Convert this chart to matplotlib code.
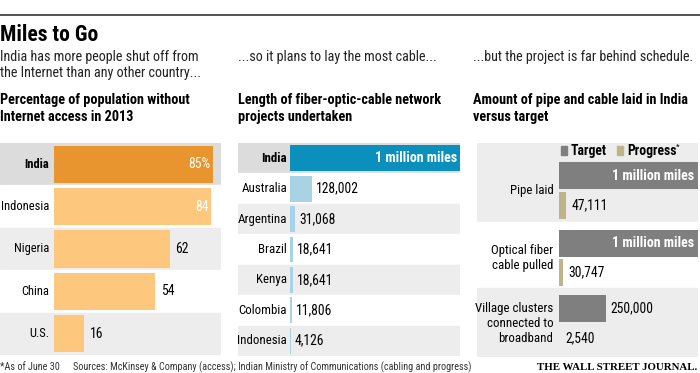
# Miles to Go - India internet / fiber-optic chart
import matplotlib.pyplot as plt
from matplotlib.patches import Rectangle
from matplotlib.lines import Line2D

plt.rcParams['font.family'] = ['Roboto Condensed', 'Fira Sans Condensed', 'PT Sans Narrow', 'DejaVu Sans']

# data
access_countries = ['India', 'Indonesia', 'Nigeria', 'China', 'U.S.']
access_pct = [85, 84, 62, 54, 16]

cable_countries = ['India', 'Australia', 'Argentina', 'Brazil', 'Kenya', 'Colombia', 'Indonesia']
cable_miles = [1000000, 128002, 31068, 18641, 18641, 11806, 4126]

progress_items = ['Pipe laid', 'Optical fiber\ncable pulled', 'Village clusters\nconnected to\nbroadband']
target_vals = [1000000, 1000000, 250000]
progress_vals = [47111, 30747, 2540]
big_labels = {1000000: '1 million miles'}

# colours
GRAY_BG = '#ededed'
INDIA_BG = '#dcdcdc'
ORANGE = '#e8952f'
LIGHT_ORANGE = '#fdc87d'
BLUE = '#0b8fbc'
LIGHT_BLUE = '#a7d3e5'
TARGET = '#7f7f7f'
PROGRESS = '#bdb589'

W, H = 700, 373
fig = plt.figure(figsize=(7, 3.73), dpi=100)


def px_axes(x0, y0, x1, y1):
    ax = fig.add_axes([x0 / W, 1 - y1 / H, (x1 - x0) / W, (y1 - y0) / H])
    ax.axis('off')
    return ax


def ftext(x, y, s, **kw):
    kw.setdefault('va', 'center')
    fig.text(x / W, 1 - y / H, s, **kw)


# header
fig.add_artist(Line2D([0, 1], [1 - 15 / H] * 2, color='#444444', lw=1.3))
ftext(0, 35, 'Miles to Go', fontsize=15.5, fontweight='bold')
sub = dict(fontsize=10.2, color='#222222')
ftext(0, 57, 'India has more people shut off from', **sub)
ftext(0, 73, 'the Internet than any other country...', **sub)
ftext(238, 57, '...so it plans to lay the most cable...', **sub)
ftext(473, 57, '...but the project is far behind schedule.', **sub)
hd = dict(fontsize=10.3, fontweight='bold')
ftext(0, 100, 'Percentage of population without', **hd)
ftext(0, 117, 'Internet access in 2013', **hd)
ftext(238, 100, 'Length of fiber-optic-cable network', **hd)
ftext(238, 117, 'projects undertaken', **hd)
ftext(473, 100, 'Amount of pipe and cable laid in India', **hd)
ftext(473, 117, 'versus target', **hd)

LBL = 9


def row_bg(ax, n):
    for i in range(n):
        c = INDIA_BG if i == 0 else (GRAY_BG if i % 2 == 0 else 'white')
        ax.axhspan(i - 0.5, i + 0.5, color=c, zorder=0)


# panel 1: percentage without access
ax1 = px_axes(0, 143, 221, 355)
ax1.set_xlim(-54 / 187 * 100, (221 - 54) / 187 * 100)
ax1.set_ylim(len(access_pct) - 0.5, -0.5)
row_bg(ax1, len(access_pct))
ax1.barh(range(len(access_pct)), access_pct, height=0.88,
         color=[ORANGE] + [LIGHT_ORANGE] * (len(access_pct) - 1), zorder=2)
for i, (c, v) in enumerate(zip(access_countries, access_pct)):
    ax1.annotate(c, xy=(0, i), xytext=(-3.5, 0), textcoords='offset points',
                 ha='right', va='center', fontsize=LBL,
                 fontweight='bold' if i == 0 else 'normal')
    lab = f'{v}%' if i == 0 else str(v)
    if v > 70:
        ax1.annotate(lab, xy=(v, i), xytext=(-2, 0), textcoords='offset points',
                     ha='right', va='center', fontsize=LBL + 0.8, color='white', zorder=3)
    else:
        ax1.annotate(lab, xy=(v, i), xytext=(4, 0), textcoords='offset points',
                     ha='left', va='center', fontsize=LBL + 0.8, zorder=3)

# panel 2: fiber-optic network length
ax2 = px_axes(238, 143, 460, 356)
ax2.set_xlim(-(290 - 238) / 170 * 1e6, 1e6)
ax2.set_ylim(len(cable_miles) - 0.5, -0.5)
row_bg(ax2, len(cable_miles))
ax2.barh(range(len(cable_miles)), cable_miles, height=0.85,
         color=[BLUE] + [LIGHT_BLUE] * (len(cable_miles) - 1), zorder=2)
for i, (c, v) in enumerate(zip(cable_countries, cable_miles)):
    ax2.annotate(c, xy=(0, i), xytext=(-2, 0), textcoords='offset points',
                 ha='right', va='center', fontsize=LBL + 0.3,
                 fontweight='bold' if i == 0 else 'normal')
    if v in big_labels:
        ax2.annotate(big_labels[v], xy=(v, i), xytext=(-2, 0), textcoords='offset points',
                     ha='right', va='center', fontsize=10, fontweight='bold',
                     color='white', zorder=3)
    else:
        ax2.annotate(f'{v:,}', xy=(v, i), xytext=(3, 0), textcoords='offset points',
                     ha='left', va='center', fontsize=LBL + 0.8, zorder=3)

# panel 3: target vs progress (village clusters use their own scale)
group_spans = [(143, 222), (222, 288), (288, 357)]
target_y = [175.5, 243, 308.5]
bar_gap = 29.5
bar_h = 27
village_axis_max = 740000

ax3 = px_axes(477, 143, 698, 357)
ax3.set_xlim(-82 / 139 * 1e6, 1e6)
ax3.set_ylim(357, 143)
ax3b = px_axes(477, 143, 698, 357)
ax3b.set_xlim(-82 / 139 * village_axis_max, village_axis_max)
ax3b.set_ylim(357, 143)
ax3b.patch.set_alpha(0)

for g, (lo, hi) in enumerate(group_spans):
    ax3.axhspan(lo, hi, color=GRAY_BG if g % 2 == 0 else 'white', zorder=0)

for g, item in enumerate(progress_items):
    ax = ax3 if target_vals[g] in big_labels else ax3b
    ty = target_y[g]
    py = ty + bar_gap
    ax.barh([ty], [target_vals[g]], height=bar_h, color=TARGET, zorder=2)
    ax.barh([py], [progress_vals[g]], height=bar_h, color=PROGRESS, zorder=2)
    ax.annotate(item, xy=(0, (ty + py) / 2), xytext=(-4, 0), textcoords='offset points',
                ha='right', va='center', fontsize=LBL + 0.3, linespacing=1.2,
                multialignment='right')
    if target_vals[g] in big_labels:
        ax.annotate(big_labels[target_vals[g]], xy=(target_vals[g], ty), xytext=(-3, 0),
                    textcoords='offset points', ha='right', va='center',
                    fontsize=10, fontweight='bold', color='white', zorder=3)
    else:
        ax.annotate(f'{target_vals[g]:,}', xy=(target_vals[g], ty), xytext=(3, 0),
                    textcoords='offset points', ha='left', va='center', fontsize=LBL + 0.8)
    ax.annotate(f'{progress_vals[g]:,}', xy=(progress_vals[g], py), xytext=(4, 0),
                textcoords='offset points', ha='left', va='center', fontsize=LBL + 0.8)

# legend
for x0, col, lab in [(561, TARGET, 'Target'), (617, PROGRESS, 'Progress')]:
    fig.add_artist(Rectangle((x0 / W, 1 - 155.5 / H), 6 / W, 9 / H,
                             transform=fig.transFigure, color=col))
    ftext(x0 + 10, 151, lab, fontsize=9.8, fontweight='bold')
ftext(676, 147, '*', fontsize=6)

# footer
ftext(0, 367, '*As of June 30', fontsize=7.3, color='#333333')
ftext(73, 367, 'Sources: McKinsey & Company (access); Indian Ministry of Communications (cabling and progress)',
      fontsize=7.3, color='#333333')
ftext(697, 367, 'THE WALL STREET JOURNAL.', fontsize=7.8, fontweight='bold',
      family='Liberation Serif', ha='right')

fig.savefig('out.png', dpi=100)
